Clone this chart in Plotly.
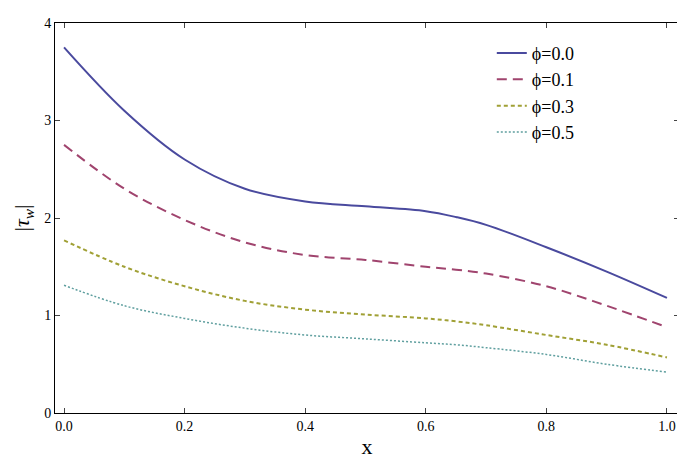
import plotly.graph_objects as go

x = [0, 0.1, 0.2, 0.3, 0.4, 0.5, 0.6, 0.65, 0.7, 0.8, 0.9, 1.0]
phi0 = [3.75, 3.1, 2.6, 2.3, 2.17, 2.12, 2.07, 2.01, 1.93, 1.7, 1.45, 1.18]
phi1 = [2.75, 2.3, 1.98, 1.75, 1.62, 1.57, 1.5, 1.47, 1.43, 1.3, 1.1, 0.88]
phi3 = [1.77, 1.5, 1.3, 1.15, 1.06, 1.01, 0.97, 0.94, 0.9, 0.8, 0.7, 0.57]
phi5 = [1.31, 1.1, 0.97, 0.87, 0.8, 0.76, 0.72, 0.7, 0.67, 0.6, 0.5, 0.42]
names = ["ϕ=0.0", "ϕ=0.1", "ϕ=0.3", "ϕ=0.5"]
colors = ["#4a4a9e", "#a0446e", "#a0a035", "#5f9f9f"]
dashes = ["solid", "10px,6px", "4px,3px", "2px,2px"]
widths = [2, 2, 2, 1.5]

fig = go.Figure()
for ys, n, c, d, w in zip([phi0, phi1, phi3, phi5], names, colors, dashes, widths):
    fig.add_trace(go.Scatter(x=x, y=ys, name=n, mode="lines",
                             line=dict(color=c, dash=d, width=w, shape="spline")))
ax = dict(showline=True, linecolor="black", mirror="ticks", ticks="inside",
          showgrid=False, zeroline=False, tickfont=dict(family="Liberation Serif", size=14, color="black"))
fig.update_layout(
    width=685, height=454, plot_bgcolor="white", paper_bgcolor="white",
    margin=dict(l=47, r=14, t=8, b=49),
    xaxis=dict(range=[-0.015, 1.02], tickvals=[0, 0.2, 0.4, 0.6, 0.8, 1.0],
               ticktext=["0.0", "0.2", "0.4", "0.6", "0.8", "1.0"],
               title=dict(text="x", font=dict(family="Liberation Serif", size=22, color="black"), standoff=5), **ax),
    yaxis=dict(range=[0, 4], tickvals=[0, 1, 2, 3, 4],
               title=dict(text="|<i>τ<sub>w</sub></i>|", font=dict(family="Liberation Serif", size=22, color="black"), standoff=8), **ax),
    legend=dict(x=0.7, y=0.97, xanchor="left", yanchor="top", bgcolor="rgba(0,0,0,0)",
                font=dict(family="Liberation Serif", size=18, color="black")),
)
fig.write_html("out.html")
